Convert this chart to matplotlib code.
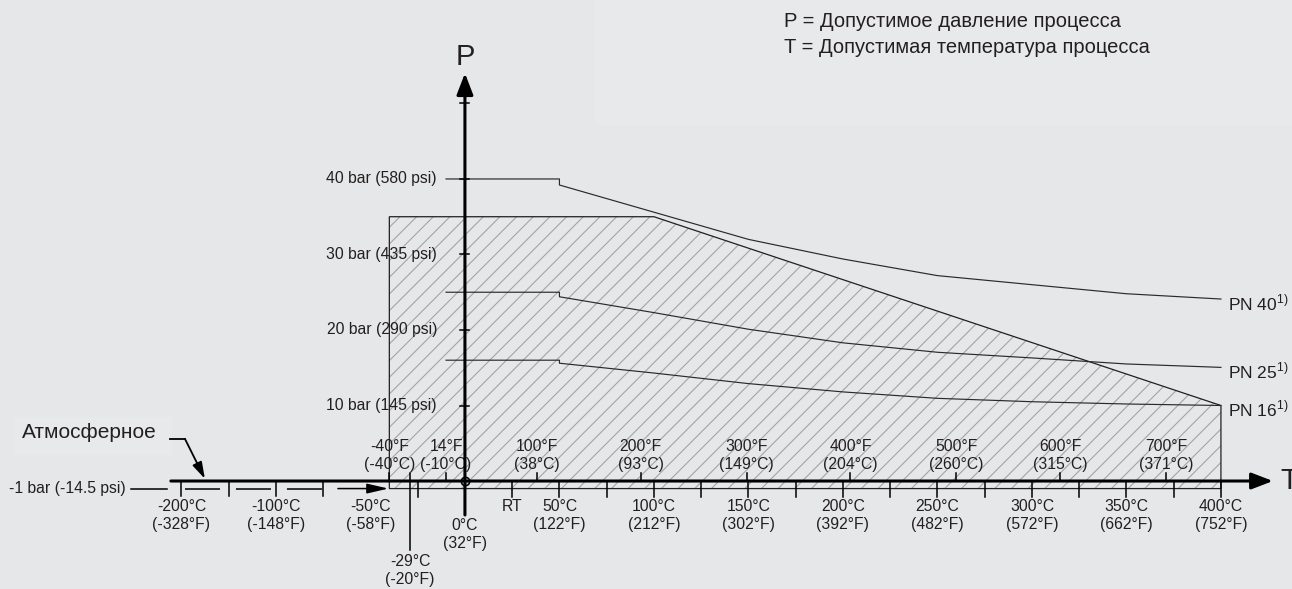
import matplotlib.pyplot as plt
from matplotlib.patches import Polygon, Rectangle

# --- data: pressure ratings (bar) vs temperature (°C) ---
pn_temps = [-10, 50, 50, 100, 150, 200, 250, 300, 350, 400]
pn40 = [40, 40, 39.2, 35.6, 32.0, 29.4, 27.2, 26.0, 24.8, 24.1]
pn25 = [25, 25, 24.4, 22.3, 20.1, 18.3, 17.05, 16.3, 15.5, 15.05]
pn16 = [16, 16, 15.6, 14.3, 12.9, 11.8, 10.95, 10.5, 10.2, 10.0]
pn_names = ['PN 40', 'PN 25', 'PN 16']

# permitted area (hatched)
env_temps = [-40, -40, 100, 400, 400]
env_press = [-1, 35, 35, 10, -1]

celsius_ticks = [50, 100, 150, 200, 250, 300, 350, 400]
celsius_labels = ['50°C\n(122°F)', '100°C\n(212°F)', '150°C\n(302°F)', '200°C\n(392°F)',
                  '250°C\n(482°F)', '300°C\n(572°F)', '350°C\n(662°F)', '400°C\n(752°F)']
minor_ticks = [-25, 25, 50, 75, 100, 125, 150, 175, 200, 225, 250, 275, 300, 325, 350, 375, 400]
fahr_ticks = [-40, -10, 38, 93, 149, 204, 260, 315, 371]
fahr_labels = ['-40°F\n(-40°C)', '14°F\n(-10°C)', '100°F\n(38°C)', '200°F\n(93°C)', '300°F\n(149°C)',
               '400°F\n(204°C)', '500°F\n(260°C)', '600°F\n(315°C)', '700°F\n(371°C)']
press_ticks = [10, 20, 30, 40, 50]
press_labels = ['10 bar (145 psi)', '20 bar (290 psi)', '30 bar (435 psi)', '40 bar (580 psi)', '']
neg_ticks = [-200, -150, -100, -50]
neg_labels = ['-200°C\n(-328°F)', '', '-100°C\n(-148°F)', '']

INK = '#231f20'
BG = '#e6e7e8'


def neg_pos(t):
    # compressed scale used left of -40 °C
    return -75 + (t + 50) * 0.5


plt.rcParams['font.family'] = ['Liberation Sans', 'DejaVu Sans']
plt.rcParams['hatch.linewidth'] = 0.8
plt.rcParams['lines.scale_dashes'] = False

fig = plt.figure(figsize=(12.92, 5.89), dpi=100, facecolor=BG)
ax = fig.add_axes([0, 0, 1, 1])
ax.set_facecolor(BG)
ax.set_xlim(-246.0, 437.6)
ax.set_ylim(-14.3, 63.7)
ax.axis('off')

# light panels behind texts
ax.add_patch(Rectangle((69, 47.2), 380, 20, color='#e8e9ea', lw=0, zorder=0))
ax.add_patch(Rectangle((-238, 3.5), 83, 5, color='#e8e9ea', lw=0, zorder=0))

# hatched area
ax.add_patch(Polygon(list(zip(env_temps, env_press)), closed=True, facecolor='none',
                     edgecolor='#a3a4a5', lw=0, hatch='//', zorder=1))
ax.add_patch(Polygon(list(zip(env_temps, env_press)), closed=True, facecolor='none',
                     edgecolor=INK, lw=0.9, zorder=2))

# pressure rating curves
for vals, name in zip([pn40, pn25, pn16], pn_names):
    ax.plot(pn_temps, vals, color='#2a2a2a', lw=0.85, zorder=3)
    ax.text(403.5, vals[-1] - 0.5, name + r'$^{\mathregular{1)}}$', fontsize=12.5,
            color=INK, ha='left', va='center')

# T axis
ax.annotate('', xy=(427.5, 0), xytext=(-155.6, 0),
            arrowprops=dict(arrowstyle='-|>,head_length=1.3,head_width=0.5', lw=2.2,
                            color='black', shrinkA=0, shrinkB=0), zorder=5)
ax.text(431.5, 0, 'T', fontsize=21, color=INK, ha='left', va='center')

# P axis
ax.annotate('', xy=(0, 54.0), xytext=(0, -4.5),
            arrowprops=dict(arrowstyle='-|>,head_length=1.3,head_width=0.5', lw=2.2,
                            color='black', shrinkA=0, shrinkB=0), zorder=5)
ax.text(0, 56.2, 'P', fontsize=21, color=INK, ha='center', va='center')
ax.plot([0], [0], marker='o', ms=6, mfc='none', mec='black', mew=1.2, zorder=6)

# pressure ticks + labels
for p, lab in zip(press_ticks, press_labels):
    ax.plot([-2.4, 2.4], [p, p], color='black', lw=1.1, zorder=5)
    ax.text(-14.8, p, lab, fontsize=11.3, color=INK, ha='right', va='center', zorder=4)

# temperature ticks below axis
for t in minor_ticks:
    ax.plot([t, t], [0, -2.1], color='black', lw=1.1, zorder=5)
for t, lab in zip(celsius_ticks, celsius_labels):
    ax.text(t, -2.4, lab, fontsize=11.3, color=INK, ha='center', va='top', linespacing=1.25)
ax.text(25, -2.4, 'RT', fontsize=11.3, color=INK, ha='center', va='top')
ax.text(0, -4.9, '0°C\n(32°F)', fontsize=11.3, color=INK, ha='center', va='top', linespacing=1.25)

# fahrenheit ticks above axis
for t, lab in zip(fahr_ticks, fahr_labels):
    ax.plot([t, t], [0, 1.06], color='black', lw=1.1, zorder=5)
    ax.text(t, 1.2, lab, fontsize=11.3, color=INK, ha='center', va='bottom', linespacing=1.25, zorder=4)

# -29 °C marker
ax.plot([-29, -29], [1.06, -9.1], color='black', lw=1.1, zorder=5)
ax.text(-29, -9.7, '-29°C\n(-20°F)', fontsize=11.3, color=INK, ha='center', va='top', linespacing=1.25)

# compressed negative range
for t, lab in zip(neg_ticks, neg_labels):
    x = neg_pos(t)
    ax.plot([x, x], [0, -2.0], color='black', lw=1.1, zorder=5)
    if lab:
        ax.text(x, -2.4, lab, fontsize=11.3, color=INK, ha='center', va='top', linespacing=1.25)
ax.text(-50, -2.4, '-50°C\n(-58°F)', fontsize=11.3, color=INK, ha='center', va='top', linespacing=1.25)

# -1 bar line (broken) with arrow to start of area
ax.plot([-148.1, -67.7], [-1, -1], color='black', lw=1.1, dashes=(25.2, 11.5), zorder=5)
ax.annotate('', xy=(-40.5, -1), xytext=(-67.2, -1),
            arrowprops=dict(arrowstyle='-|>,head_length=1.3,head_width=0.3', lw=1.1,
                            color='black', shrinkA=0, shrinkB=0), zorder=5)
ax.plot([-176.7, -157.7], [-1, -1], color='black', lw=1.1)
ax.text(-241, -1, '-1 bar (-14.5 psi)', fontsize=11.3, color=INK, ha='left', va='center')

# atmospheric pointer
ax.text(-234.5, 6.4, 'Атмосферное', fontsize=15, color=INK, ha='left', va='center')
ax.plot([-156.1, -148.1], [5.56, 5.56], color='black', lw=1.3)
ax.annotate('', xy=(-137.6, 0.3), xytext=(-148.1, 5.56),
            arrowprops=dict(arrowstyle='-|>,head_length=1.0,head_width=0.3', lw=1.3,
                            color='black', shrinkA=0, shrinkB=0), zorder=5)

# legend text
ax.text(168.8, 60.9, 'P = Допустимое давление процесса', fontsize=14.5, color=INK, ha='left', va='center')
ax.text(168.8, 57.4, 'T = Допустимая температура процесса', fontsize=14.5, color=INK, ha='left', va='center')

fig.savefig('out.png', dpi=100, facecolor=BG)
